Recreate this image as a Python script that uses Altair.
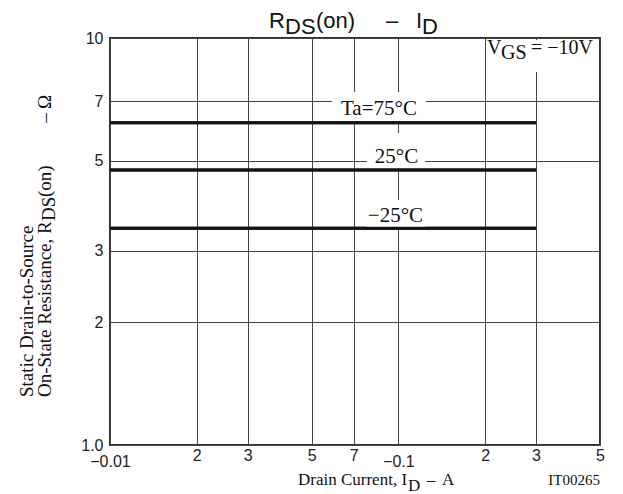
import altair as alt
import pandas as pd

# ---- data ----
series_names = ["Ta=75°C", "25°C", "\u221225°C"]
rds_values = [6.19, 4.74, 3.41]
id_start = [0.01, 0.01, 0.01]
id_end = [0.3, 0.3, 0.3]

x_ticks = [0.01, 0.02, 0.03, 0.05, 0.07, 0.1, 0.2, 0.3, 0.5]
x_tick_labels = ["\u22120.01", "2", "3", "5", "7", "\u22120.1", "2", "3", "5"]
y_ticks = [1, 2, 3, 5, 7, 10]
y_tick_labels = ["1.0", "2", "3", "5", "7", "10"]

# curve label anchors (data units) and their white backing boxes
label_x = [0.0856, 0.0985, 0.0977]
label_y = [6.47, 4.93, 3.53]
box_x0 = [0.0588, 0.0778, 0.0772]
box_x1 = [0.1246, 0.1237, 0.1237]
box_y0 = [6.25, 4.79, 3.43]
box_y1 = [7.37, 5.84, 4.00]

W, H = 490, 407
SERIF = "Liberation Serif"
SANS = "Liberation Sans"

lines_df = pd.DataFrame({
    "series": [s for s in series_names for _ in range(2)],
    "x": [v for a, b in zip(id_start, id_end) for v in (a, b)],
    "y": [v for v in rds_values for _ in range(2)],
})
labels_df = pd.DataFrame({"x": label_x, "y": label_y, "text": series_names})
boxes_df = pd.DataFrame({"x": box_x0, "x2": box_x1, "y": box_y0, "y2": box_y1})


def label_expr(vals, texts):
    parts = []
    for v, t in zip(vals, texts):
        lab = "['', '%s']" % t if t.startswith("\u2212") else "'%s'" % t
        parts.append("abs(datum.value - %r) < %r ? %s : " % (v, v * 1e-6, lab))
    return "".join(parts) + "''"


xscale = alt.Scale(type="log", domain=[0.01, 0.5], nice=False)
yscale = alt.Scale(type="log", domain=[1, 10], nice=False)

x_axis = alt.Axis(values=x_ticks, labelExpr=label_expr(x_ticks, x_tick_labels),
                  title=None, grid=True, ticks=False, domain=False,
                  labelPadding=2, labelFont=SANS, labelFontSize=16,
                  labelColor="#222", labelLineHeight=6, labelOverlap=False,
                  labelFlush=False, gridColor="#444", gridWidth=1)
y_axis = alt.Axis(values=y_ticks, labelExpr=label_expr(y_ticks, y_tick_labels),
                  title=None, grid=True, ticks=False, domain=False,
                  labelPadding=7, labelFont=SANS, labelFontSize=16,
                  labelColor="#222", labelOverlap=False, labelFlush=False,
                  gridColor="#444", gridWidth=1)

base_lines = alt.Chart(lines_df).mark_line(strokeWidth=3, color="#111").encode(
    x=alt.X("x:Q", scale=xscale, axis=x_axis),
    y=alt.Y("y:Q", scale=yscale, axis=y_axis),
    detail="series:N",
)

boxes = alt.Chart(boxes_df).mark_rect(fill="white", strokeWidth=0).encode(
    x=alt.X("x:Q", scale=xscale), x2="x2:Q",
    y=alt.Y("y:Q", scale=yscale), y2="y2:Q",
)

curve_labels = alt.Chart(labels_df).mark_text(
    font=SERIF, fontSize=21, align="center", baseline="alphabetic", color="#111"
).encode(
    x=alt.X("x:Q", scale=xscale), y=alt.Y("y:Q", scale=yscale), text="text:N"
)

one = pd.DataFrame({"k": [0]})


def ann(text, x, y, font=SERIF, size=19, align="left", angle=0, baseline="alphabetic"):
    kw = dict(font=font, fontSize=size, align=align, baseline=baseline, color="#111")
    if angle:
        kw["angle"] = angle
    return alt.Chart(one).mark_text(**kw).encode(
        x=alt.value(x), y=alt.value(y), text=alt.value(text))


# V_GS box (white backing, top-right)
vgs_box = alt.Chart(one).mark_rect(fill="white", strokeWidth=0).encode(
    x=alt.value(377), x2=alt.value(488), y=alt.value(2), y2=alt.value(34))

texts = [
    # V_GS = -10V
    ann("V", 377, 16, size=20),
    ann("GS", 391, 21, size=20),
    ann("= \u221210V", 421, 16, size=20),
    # chart title  R_DS(on) - I_D
    ann("R", 159, -10, font=SANS, size=22),
    ann("DS", 175, -4, font=SANS, size=22),
    ann("(on)", 206, -10, font=SANS, size=22),
    ann("\u2013", 282, -10, font=SANS, size=22, align="center"),
    ann("I", 306, -10, font=SANS, size=22),
    ann("D", 312, -4, font=SANS, size=22),
    # x title
    ann("Drain Current, I", 188, 447, size=17),
    ann("D", 298, 453, size=17),
    ann("\u2013", 321, 447, size=17, align="center"),
    ann("A", 332, 447, size=17),
    ann("IT00265", 490, 447, size=15, align="right"),
    # y title (rotated)
    ann("Static Drain-to-Source", -77, 359, size=19, angle=270),
    ann("On-State Resistance, R", -59, 359, size=19, angle=270),
    ann("DS", -55, 183, size=19, angle=270),
    ann("(on)", -59, 159, size=19, angle=270),
    ann("\u2013", -59, 80, size=19, angle=270, align="center"),
    ann("\u03a9", -59, 64, size=19, angle=270, align="center"),
]

chart = alt.layer(base_lines, boxes, vgs_box, base_lines, curve_labels, *texts).properties(
    width=W, height=H,
    autosize=alt.AutoSizeParams(type="none"),
    padding={"left": 102, "top": 30, "right": 15, "bottom": 50},
).configure_view(stroke="#333", strokeWidth=2)

chart.save("out.html", embed_options={"renderer": "svg", "actions": False})
